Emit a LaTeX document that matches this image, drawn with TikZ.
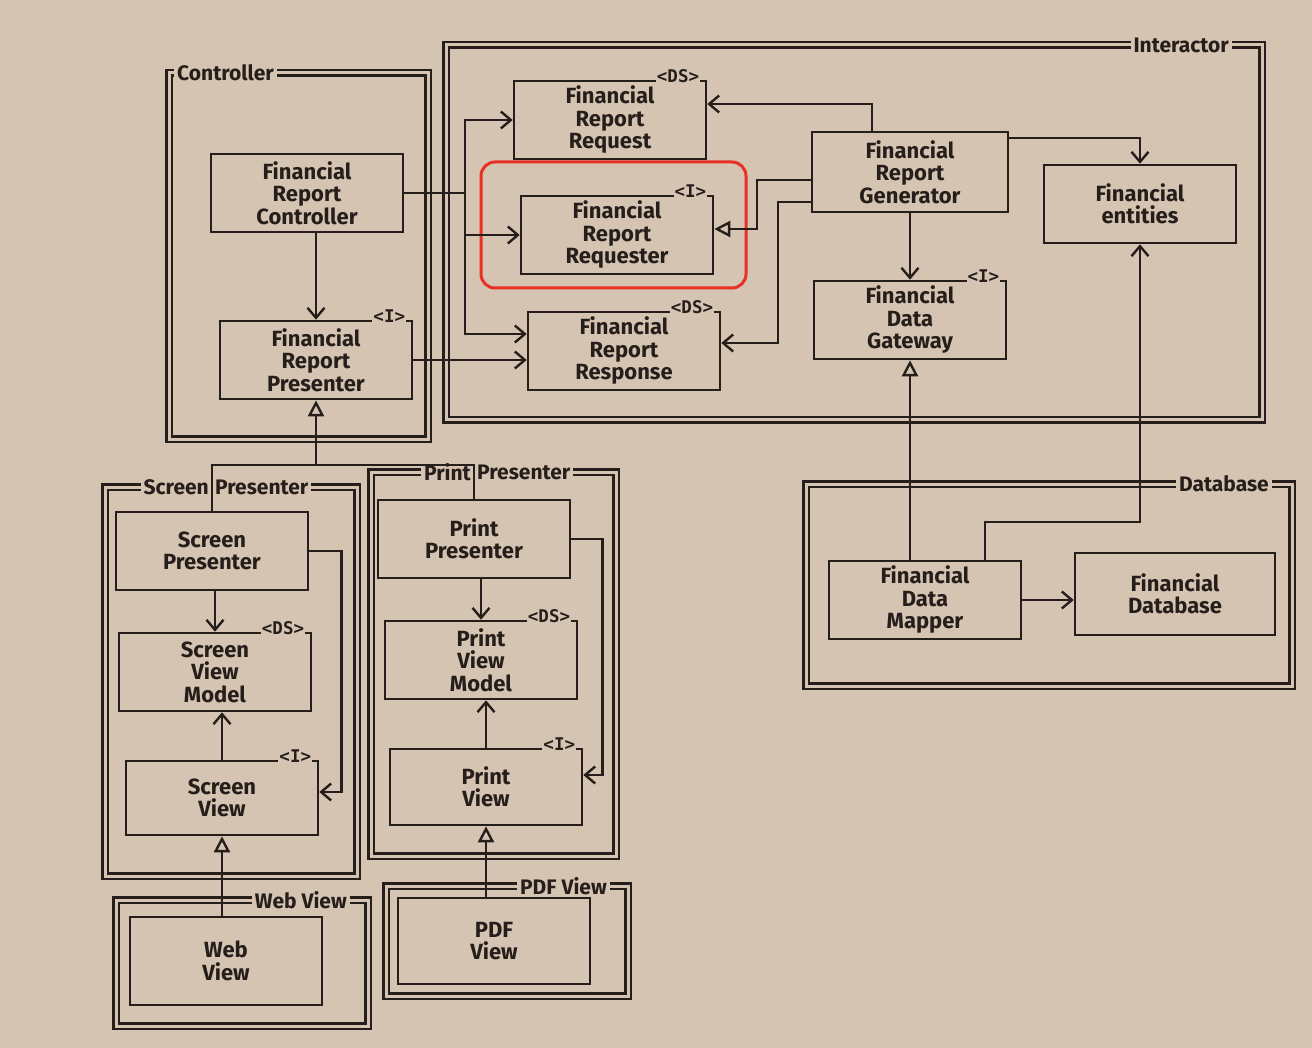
\documentclass[tikz,border=0pt]{standalone}
\usepackage{fontspec}
\setmainfont{Fira Sans}
\newfontfamily\tagfont{DejaVu Sans Mono}
\usetikzlibrary{arrows.meta}
\definecolor{paper}{RGB}{214,196,178}
\definecolor{ink}{RGB}{38,30,27}
\definecolor{markred}{RGB}{232,48,36}

\begin{document}
\begin{tikzpicture}[x=1pt,y=-1pt,
  comp/.style={draw=ink,line width=2.4pt,double=paper,double distance=3pt},
  compname/.style={fill=paper,inner xsep=3pt,inner ysep=1pt,font=\fontsize{21}{21}\selectfont\bfseries,text=ink},
  unit/.style={draw=ink,line width=2.6pt,align=center,minimum width=192pt,minimum height=78pt,font=\fontsize{22}{22.5}\selectfont\bfseries,text=ink},
  stereo/.style={fill=paper,inner sep=1pt,anchor=east,font=\tagfont\fontsize{17.5}{17.5}\selectfont\bfseries,text=ink},
  link/.style={draw=ink,line width=2.4pt},
  dep/.style={link,-{Straight Barb[length=10pt,width=17pt]}},
  impl/.style={link,-{Triangle[open,length=16pt,width=16pt]}}]
  \fill[paper] (0,0) rectangle (1312,1048);
  \useasboundingbox (0,0) rectangle (1312,1048);

  \draw[comp] (169,73) rectangle (428,439);
  \draw[comp] (446,45) rectangle (1262,420);
  \draw[comp] (105,487) rectangle (357,876);
  \draw[comp] (371,472) rectangle (616,856);
  \draw[comp] (116,900) rectangle (368,1026);
  \draw[comp] (386,886) rectangle (628,996);
  \draw[comp] (806,484) rectangle (1292,686);

  \node[compname,anchor=west] (ctrlname) at (174,73) {Controller};
  \node[compname,anchor=east] (intname) at (1232,45) {Interactor};
  \node[compname,anchor=east] (spname) at (212,487) {Screen};
  \node[compname,anchor=west] (spname2) at (212,487) {Presenter};
  \node[compname,anchor=east] (ppname) at (474,472) {Print};
  \node[compname,anchor=west] (ppname2) at (474,472) {Presenter};
  \node[compname,anchor=east] (wvname) at (350,900) {Web View};
  \node[compname,anchor=east] (pdfname) at (610,886) {PDF View};
  \node[compname,anchor=east] (dbname) at (1272,484) {Database};

  \draw[markred,line width=3pt,rounded corners=14pt] (481,162) rectangle (746,288);

  \node[unit] (FRC) at (307,193) {Financial\\Report\\Controller};
  \node[unit] (FRP) at (316,360) {Financial\\Report\\Presenter};
  \node[unit] (Req) at (610,120) {Financial\\Report\\Request};
  \node[unit] (Rqr) at (617,235) {Financial\\Report\\Requester};
  \node[unit] (Rsp) at (624,351) {Financial\\Report\\Response};
  \node[unit,minimum width=196pt,minimum height=80pt] (Gen) at (910,172) {Financial\\Report\\Generator};
  \node[unit] (Ent) at (1140,204) {Financial\\entities};
  \node[unit] (Gwy) at (910,320) {Financial\\Data\\Gateway};
  \node[unit] (SP) at (212,551) {Screen\\Presenter};
  \node[unit] (SVM) at (215,672) {Screen\\View\\Model};
  \node[unit,minimum height=74pt] (SV) at (222,798) {Screen\\View};
  \node[unit] (PP) at (474,539) {Print\\Presenter};
  \node[unit] (PVM) at (481,660) {Print\\View\\Model};
  \node[unit,minimum height=76pt] (PV) at (486,787) {Print\\View};
  \node[unit,minimum height=88pt] (WV) at (226,961) {Web\\View};
  \node[unit,minimum height=86pt] (PDF) at (494,941) {PDF\\View};
  \node[unit] (FDM) at (925,600) {Financial\\Data\\Mapper};
  \node[unit,minimum width=200pt,minimum height=82pt] (FDB) at (1175,594) {Financial\\Database};

  \node[stereo] (reqtag) at ([xshift=-7pt,yshift=4pt]Req.north east) {<DS>};
  \node[stereo] (rqrtag) at ([xshift=-7pt,yshift=4pt]Rqr.north east) {<I>};
  \node[stereo] (rsptag) at ([xshift=-7pt,yshift=4pt]Rsp.north east) {<DS>};
  \node[stereo] (frptag) at ([xshift=-7pt,yshift=4pt]FRP.north east) {<I>};
  \node[stereo] (gwytag) at ([xshift=-7pt,yshift=4pt]Gwy.north east) {<I>};
  \node[stereo] (svmtag) at ([xshift=-7pt,yshift=4pt]SVM.north east) {<DS>};
  \node[stereo] (svtag) at ([xshift=-7pt,yshift=4pt]SV.north east) {<I>};
  \node[stereo] (pvmtag) at ([xshift=-7pt,yshift=4pt]PVM.north east) {<DS>};
  \node[stereo] (pvtag) at ([xshift=-7pt,yshift=4pt]PV.north east) {<I>};

  \coordinate (trunk) at (465,193);
  \draw[link] (FRC.east) -- (trunk);
  \draw[dep] (trunk) |- (Req.west);
  \draw[dep] (trunk) |- (Rqr.west);
  \draw[dep] (trunk) |- ([yshift=17pt]Rsp.west);
  \draw[dep] (FRP.east) -- (FRP.east -| Rsp.west);
  \draw[dep] (FRC.south -| FRP.north) -- (FRP.north);
  \draw[dep] ([xshift=-38pt]Gen.north) |- ([yshift=16pt]Req.east);
  \draw[impl] ([yshift=-8pt]Gen.west) -- ++(-54,0) |- ([yshift=6pt]Rqr.east);
  \draw[dep] ([yshift=-30pt]Gen.west) -- ++(-33,0) |- ([yshift=8pt]Rsp.east);
  \draw[dep] ([yshift=34pt]Gen.east) -| (Ent.north);
  \draw[dep] (Gen.south) -- (Gwy.north);
  \draw[impl] (FDM.north -| Gwy.south) -- (Gwy.south);
  \draw[dep] ([xshift=60pt]FDM.north) -- ++(0,-38) -| (Ent.south);
  \draw[dep] (FDM.east) -- (FDM.east -| FDB.west);

  \coordinate (pfork) at (316,465);
  \draw[link] (SP.north) |- (pfork) -| (PP.north);
  \draw[impl] (pfork) -- (FRP.south);
  \draw[dep] (SP.south -| SVM.north) -- (SVM.north);
  \draw[dep] (SV.north) -- (SV.north |- SVM.south);
  \draw[dep] (SP.east) -- ++(32,0) |- ([yshift=6pt]SV.east);
  \draw[impl] (WV.north -| SV.south) -- (SV.south);
  \draw[dep] (PP.south -| PVM.north) -- (PVM.north);
  \draw[dep] (PV.north) -- (PV.north |- PVM.south);
  \draw[dep] (PP.east) -- ++(31,0) |- ([yshift=12pt]PV.east);
  \draw[impl] (PDF.north -| PV.south) -- (PV.south);
\end{tikzpicture}
\end{document}
